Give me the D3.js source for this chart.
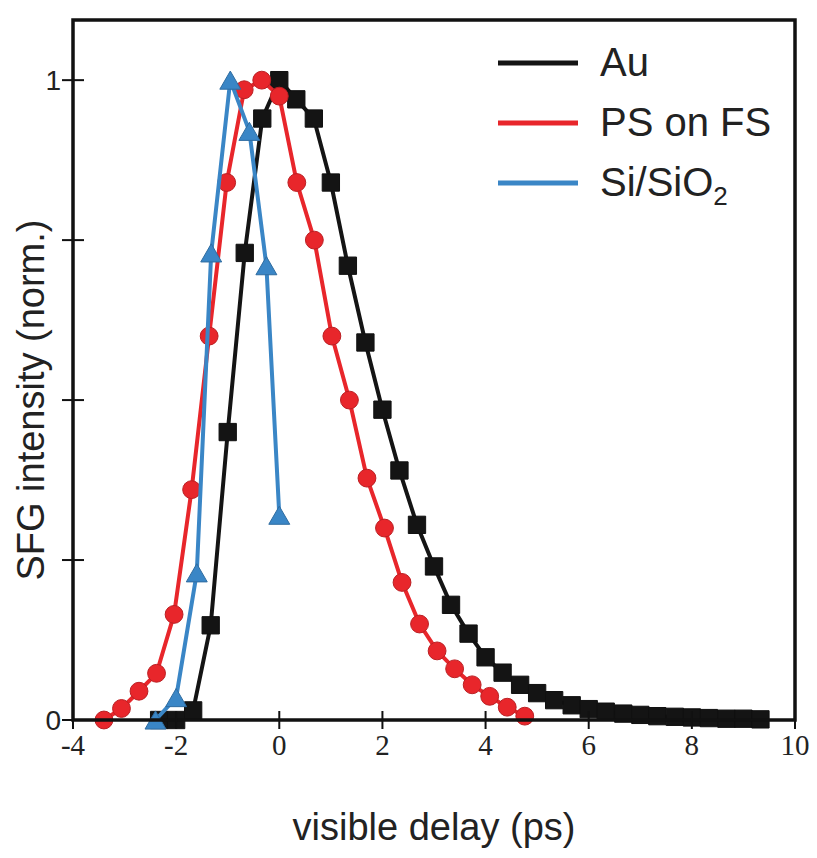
<!DOCTYPE html>
<html>
<head>
<meta charset="utf-8">
<script src="https://cdn.jsdelivr.net/npm/d3@7"></script>
<style>
  body { margin: 0; background: #fff; }
  svg { display: block; }
</style>
</head>
<body>
<div class="vis-sfg"></div>
<script>
// Au (black squares), 1/3 ps steps
const auDelay = [-2.33, -2.0, -1.67, -1.33, -1.0, -0.67, -0.33, 0, 0.33, 0.67, 1.0, 1.33, 1.67, 2.0,
  2.33, 2.67, 3.0, 3.33, 3.67, 4.0, 4.33, 4.67, 5.0, 5.33, 5.67, 6.0, 6.33, 6.67, 7.0, 7.33,
  7.67, 8.0, 8.33, 8.67, 9.0, 9.33];
const auInt = [0.0, 0.0, 0.015, 0.148, 0.45, 0.73, 0.94, 1.0, 0.97, 0.94, 0.84, 0.71, 0.59, 0.485,
  0.39, 0.305, 0.24, 0.18, 0.135, 0.098, 0.074, 0.055, 0.042, 0.031, 0.023, 0.017, 0.013, 0.01,
  0.008, 0.006, 0.005, 0.004, 0.003, 0.002, 0.002, 0.001];

// PS on FS (red circles)
const psDelay = [-3.4, -3.06, -2.72, -2.38, -2.04, -1.7, -1.36, -1.02, -0.68, -0.34, 0, 0.34, 0.68,
  1.02, 1.36, 1.7, 2.04, 2.38, 2.72, 3.06, 3.4, 3.74, 4.08, 4.42, 4.76];
const psInt = [0.0, 0.018, 0.045, 0.073, 0.165, 0.36, 0.6, 0.84, 0.985, 1.0, 0.975, 0.84, 0.75,
  0.6, 0.5, 0.378, 0.3, 0.215, 0.15, 0.108, 0.08, 0.055, 0.037, 0.02, 0.006];

// Si/SiO2 (blue triangles)
const siDelay = [-2.4, -2.0, -1.6, -1.32, -0.95, -0.58, -0.25, 0.0];
const siInt = [0.0, 0.035, 0.23, 0.73, 1.0, 0.92, 0.71, 0.32];

const xTicks = [-4, -2, 0, 2, 4, 6, 8, 10];
const yTicks = [0, 0.25, 0.5, 0.75, 1];
const yTickLabels = ['0', '', '', '', '1'];

const seriesNames = ['Au', 'PS on FS', 'Si/SiO2'];
const seriesColors = ['#141414', '#e8262b', '#3a86c6'];

const W = 817, H = 858;
const margin = { top: 20, right: 22, bottom: 138, left: 73 };

const svg = d3.select('.vis-sfg').append('svg')
  .attr('width', W)
  .attr('height', H);

const x = d3.scaleLinear().domain([-4, 10]).range([margin.left, W - margin.right]);
const y = d3.scaleLinear().domain([0, 1.094]).range([H - margin.bottom, margin.top]);

const sans = 'Liberation Sans, Arial, sans-serif';
const serif = 'Liberation Serif, Times New Roman, serif';

// series
const series = [
  { name: seriesNames[0], color: seriesColors[0], pts: auDelay.map((d, i) => [d, auInt[i]]), shape: 'square' },
  { name: seriesNames[1], color: seriesColors[1], pts: psDelay.map((d, i) => [d, psInt[i]]), shape: 'circle' },
  { name: seriesNames[2], color: seriesColors[2], pts: siDelay.map((d, i) => [d, siInt[i]]), shape: 'triangle' }
];

const line = d3.line().x(d => x(d[0])).y(d => y(d[1]));
const symbolType = { square: d3.symbolSquare, circle: d3.symbolCircle, triangle: d3.symbolTriangle };
const symbolSize = { square: 300, circle: 250, triangle: 190 };

series.forEach(s => {
  const g = svg.append('g');
  g.append('path')
    .attr('d', line(s.pts))
    .attr('fill', 'none')
    .attr('stroke', s.color)
    .attr('stroke-width', 4)
    .attr('stroke-linejoin', 'round');
  g.selectAll('path.m')
    .data(s.pts)
    .enter()
    .append('path')
    .attr('class', 'm')
    .attr('d', d3.symbol().type(symbolType[s.shape]).size(symbolSize[s.shape]))
    .attr('transform', d => 'translate(' + x(d[0]) + ',' + (y(d[1]) + (s.shape === 'triangle' ? 3 : 0)) + ')')
    .attr('fill', s.color)
    .attr('stroke', d3.color(s.color).darker(0.6))
    .attr('stroke-width', 1);
});

// frame
svg.append('rect')
  .attr('x', margin.left)
  .attr('y', margin.top)
  .attr('width', W - margin.left - margin.right)
  .attr('height', H - margin.top - margin.bottom)
  .attr('fill', 'none')
  .attr('stroke', '#111')
  .attr('stroke-width', 3.5);

// x ticks (crossing the axis)
const x0 = y(0);
svg.selectAll('.xt')
  .data(xTicks)
  .enter()
  .append('line')
  .attr('x1', d => x(d)).attr('x2', d => x(d))
  .attr('y1', x0 - 9).attr('y2', x0 + 9)
  .attr('stroke', '#111')
  .attr('stroke-width', 2);

svg.selectAll('.xl')
  .data(xTicks)
  .enter()
  .append('text')
  .attr('x', d => x(d))
  .attr('y', x0 + 35)
  .attr('text-anchor', 'middle')
  .attr('font-family', serif)
  .attr('font-size', 29)
  .attr('fill', '#222')
  .text(d => d);

// y ticks
svg.selectAll('.yt')
  .data(yTicks)
  .enter()
  .append('line')
  .attr('x1', margin.left - 11).attr('x2', margin.left + 11)
  .attr('y1', d => y(d)).attr('y2', d => y(d))
  .attr('stroke', '#111')
  .attr('stroke-width', 2);

svg.selectAll('.yl')
  .data(yTicks)
  .enter()
  .append('text')
  .attr('x', margin.left - 12)
  .attr('y', d => y(d) + 10)
  .attr('text-anchor', 'end')
  .attr('font-family', sans)
  .attr('font-size', 28)
  .attr('fill', '#222')
  .text((d, i) => yTickLabels[i]);

// axis titles
svg.append('text')
  .attr('x', (x(-4) + x(10)) / 2)
  .attr('y', 840)
  .attr('text-anchor', 'middle')
  .attr('font-family', sans)
  .attr('font-size', 38)
  .attr('fill', '#222')
  .text('visible delay (ps)');

svg.append('text')
  .attr('transform', 'translate(44,' + y(0.5) + ') rotate(-90)')
  .attr('text-anchor', 'middle')
  .attr('font-family', sans)
  .attr('font-size', 38)
  .attr('fill', '#222')
  .text('SFG intensity (norm.)');

// legend
const legendG = svg.selectAll('.legend')
  .data(series)
  .enter()
  .append('g')
  .attr('class', 'legend')
  .attr('transform', (d, i) => 'translate(498,' + (63 + i * 60) + ')');

legendG.append('line')
  .attr('x1', 0).attr('x2', 80)
  .attr('stroke', d => d.color)
  .attr('stroke-width', 5);

const lt = legendG.append('text')
  .attr('x', 102)
  .attr('y', 13)
  .attr('font-family', sans)
  .attr('font-size', 40)
  .attr('fill', '#222');

lt.each(function (d) {
  const t = d3.select(this);
  if (d.name === 'Si/SiO2') {
    t.append('tspan').text('Si/SiO');
    t.append('tspan').attr('font-size', 26).attr('dy', 9).text('2');
  } else {
    t.text(d.name);
  }
});
</script>
</body>
</html>
